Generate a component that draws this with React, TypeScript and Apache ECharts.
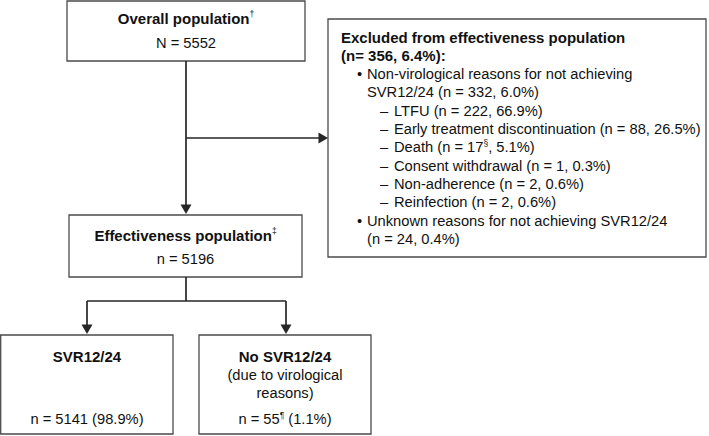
import React, { useEffect, useRef } from 'react';
import * as echarts from 'echarts';

const FONT = '"Liberation Sans", Arial, Helvetica, sans-serif';

// ---- Data (texts and counts) ----
const boxTitles = ['Overall population', 'Effectiveness population', 'SVR12/24', 'No SVR12/24'];
const titleMarks = ['†', '‡', '', ''];
const boxCounts = ['N = 5552', 'n = 5196', 'n = 5141 (98.9%)', 'n = 55'];
const countMarks = ['', '', '', '¶'];
const countTails = ['', '', '', ' (1.1%)'];
const noSvrNote = ['(due to virological', 'reasons)'];

const excludedHeader = ['Excluded from effectiveness population', '(n= 356, 6.4%):'];
// 1 = bullet, 0 = bullet continuation, 2 = dash sub-item
const excludedLevels = [1, 0, 2, 2, 2, 2, 2, 2, 1, 0];
const excludedTexts = [
  'Non-virological reasons for not achieving',
  'SVR12/24 (n = 332, 6.0%)',
  'LTFU (n = 222, 66.9%)',
  'Early treatment discontinuation (n = 88, 26.5%)',
  'Death (n = 17{s|§}, 5.1%)',
  'Consent withdrawal (n = 1, 0.3%)',
  'Non-adherence (n = 2, 0.6%)',
  'Reinfection (n = 2, 0.6%)',
  'Unknown reasons for not achieving SVR12/24',
  '(n = 24, 0.4%)',
];

const TEXT = '#111111';
const BORDER = '#4a4a4a';
const ARROW = '#262626';
const FS = 14.7;
const FSB = 15;

const rich = {
  n: { fontSize: FS, fontFamily: FONT, color: TEXT, lineHeight: 18 },
  b: { fontSize: FSB, fontFamily: FONT, color: TEXT, fontWeight: 'bold', lineHeight: 18 },
  s: { fontSize: 8.5, fontFamily: FONT, color: TEXT, verticalAlign: 'top', lineHeight: 15 },
};

function box(x: number, y: number, w: number, h: number) {
  return {
    type: 'rect',
    shape: { x, y, width: w, height: h },
    style: { fill: '#ffffff', stroke: BORDER, lineWidth: 1.3 },
    silent: true,
  };
}

function label(x: number, y: number, text: string, align = 'center') {
  return {
    type: 'text',
    x,
    y,
    style: {
      text,
      x: 0,
      y: 0,
      align,
      verticalAlign: 'middle',
      fontSize: FS,
      fontFamily: FONT,
      fill: TEXT,
      lineHeight: 18,
      rich,
    },
    silent: true,
  };
}

function line(points: number[][]) {
  return {
    type: 'polyline',
    shape: { points },
    style: { stroke: ARROW, lineWidth: 1.7, fill: null },
    silent: true,
  };
}

function head(tx: number, ty: number, dir: 'down' | 'right') {
  const pts =
    dir === 'down'
      ? [[tx - 5.5, ty - 9.5], [tx + 5.5, ty - 9.5], [tx, ty]]
      : [[tx - 9.5, ty - 5.5], [tx - 9.5, ty + 5.5], [tx, ty]];
  return {
    type: 'polygon',
    shape: { points: pts },
    style: { fill: ARROW, stroke: null },
    silent: true,
  };
}

function titled(i: number) {
  const mark = titleMarks[i] ? `{s|${titleMarks[i]}}` : '';
  return `{b|${boxTitles[i]}}${mark}`;
}
function counted(i: number) {
  const mark = countMarks[i] ? `{s|${countMarks[i]}}` : '';
  const tail = countTails[i] ? `{n|${countTails[i]}}` : '';
  return `{n|${boxCounts[i]}}${mark}${tail}`;
}

function buildGraphic() {
  const els: any[] = [];
  // boxes
  els.push(box(67, 1, 238, 60));
  els.push(box(69, 215, 233, 62));
  els.push(box(0.7, 335, 172.3, 99));
  els.push(box(199, 335, 172, 99));
  els.push(box(328, 19, 378, 238));

  // arrows
  els.push(line([[186, 61], [186, 206]]));
  els.push(head(186, 214, 'down'));
  els.push(line([[186, 138], [319, 138]]));
  els.push(head(328, 138, 'right'));
  els.push(line([[186, 277], [186, 301]]));
  els.push(line([[87, 301], [286, 301]]));
  els.push(line([[87, 301], [87, 326]]));
  els.push(head(87, 334, 'down'));
  els.push(line([[286, 301], [286, 326]]));
  els.push(head(286, 334, 'down'));

  // box texts
  els.push(label(186, 18, titled(0)));
  els.push(label(186, 43, counted(0)));
  els.push(label(185.5, 235, titled(1)));
  els.push(label(185.5, 259, counted(1)));
  els.push(label(87, 356, titled(2)));
  els.push(label(87, 419, counted(2)));
  els.push(label(285, 356, titled(3)));
  els.push(label(285, 374.5, `{n|${noSvrNote[0]}}`));
  els.push(label(285, 393, `{n|${noSvrNote[1]}}`));
  els.push(label(285, 419, counted(3)));

  // excluded box
  const y0 = 37.5;
  const dy = 18.3;
  excludedHeader.forEach((t, i) => {
    els.push(label(341, y0 + i * dy, `{b|${t}}`, 'left'));
  });
  excludedTexts.forEach((t, j) => {
    const y = y0 + (j + 2) * dy;
    const lvl = excludedLevels[j];
    if (lvl === 1) {
      els.push(label(357, y, '{n|•}', 'left'));
      els.push(label(367, y, t, 'left'));
    } else if (lvl === 0) {
      els.push(label(367, y, t, 'left'));
    } else {
      els.push(label(380, y, '{n|–}', 'left'));
      els.push(label(394, y, t, 'left'));
    }
  });
  return els;
}

export default function App() {
  const ref = useRef<HTMLDivElement>(null);
  useEffect(() => {
    if (!ref.current) return;
    const chart = echarts.init(ref.current, undefined, { renderer: 'svg' });
    chart.setOption({
      animation: false,
      backgroundColor: '#ffffff',
      graphic: { elements: buildGraphic() },
    });
    return () => chart.dispose();
  }, []);
  return (
    <div
      ref={ref}
      style={{ position: 'absolute', left: 0, top: 0, width: 709, height: 436, background: '#fff' }}
    />
  );
}
